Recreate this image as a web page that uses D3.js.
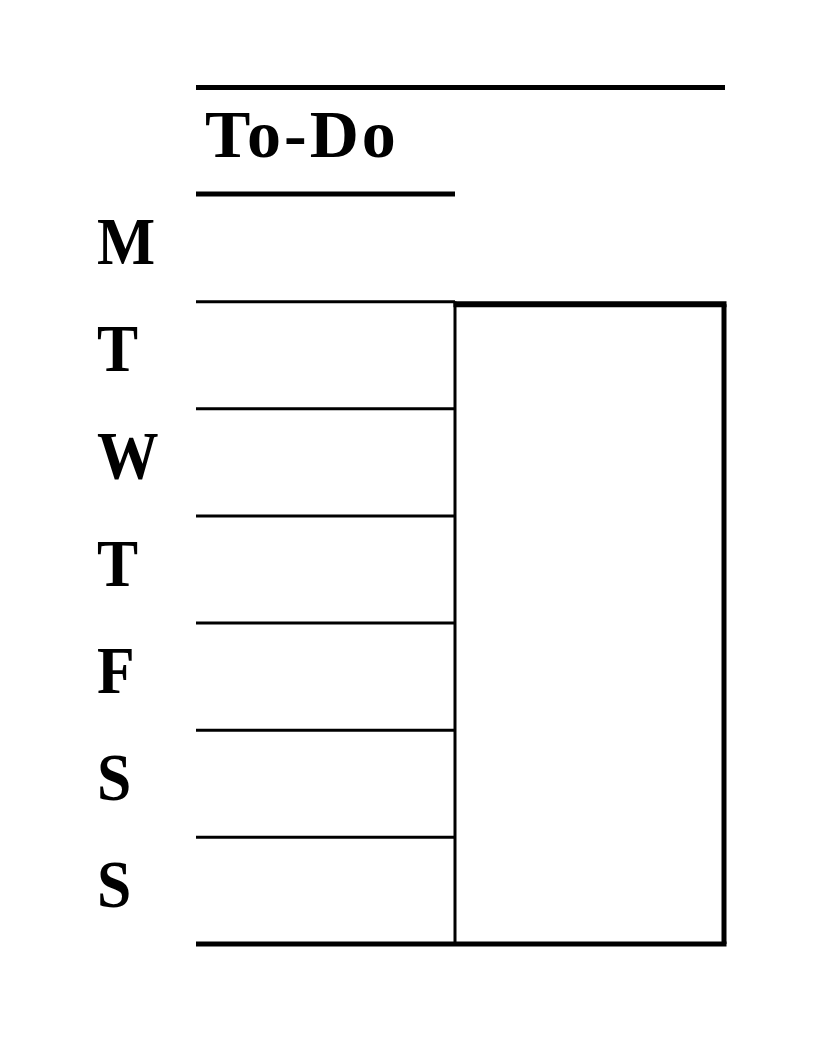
<!DOCTYPE html>
<html>
<head>
<meta charset="utf-8">
<script src="https://cdn.jsdelivr.net/npm/d3@7"></script>
<style>
  html, body { margin: 0; padding: 0; background: #fff; }
  svg { display: block; }
  text { font-family: "Liberation Serif", "DejaVu Serif", serif; font-weight: bold; fill: #000; }
</style>
</head>
<body>
<div id="chart"></div>
<script>

	/*****************************************
					Data
	*****************************************/

	var title = "To-Do";
	var days  = ["M", "T", "W", "T", "F", "S", "S"];
	var rows  = d3.range(days.length + 1);        // row boundaries 0..7

	/*****************************************
					Layout
	*****************************************/

	var W = 816, H = 1056;

	var svg = d3.select("#chart").append("svg")
		.attr("width", W)
		.attr("height", H);

	// rows of the week, top boundary under the title, bottom is the thick rule
	var y = d3.scaleLinear()
		.domain([0, days.length])
		.range([194, 944]);

	// column edges: left of list, divider, right of box
	var x = d3.scaleOrdinal()
		.domain(["left", "mid", "right"])
		.range([196, 455, 724]);

	/*****************************************
				Header
	*****************************************/

	svg.append("line")
		.attr("x1", x("left")).attr("x2", x("right") + 1)
		.attr("y1", 87.5).attr("y2", 87.5)
		.attr("stroke", "#000").attr("stroke-width", 5);

	svg.append("text")
		.attr("x", 205)
		.attr("y", 157)
		.style("font-size", "68px")
		.style("letter-spacing", "3px")
		.text(title);

	svg.append("line")
		.attr("x1", x("left")).attr("x2", x("mid"))
		.attr("y1", y(0)).attr("y2", y(0))
		.attr("stroke", "#000").attr("stroke-width", 5);

	/*****************************************
				Day rows
	*****************************************/

	svg.selectAll("line.row")
		.data(rows.slice(1, -1))
		.enter().append("line")
			.attr("class", "row")
			.attr("x1", x("left")).attr("x2", x("mid"))
			.attr("y1", function(d){ return y(d) + 0.5; })
			.attr("y2", function(d){ return y(d) + 0.5; })
			.attr("stroke", "#000").attr("stroke-width", 3);

	svg.selectAll("text.day")
		.data(days)
		.enter().append("text")
			.attr("class", "day")
			.attr("transform", function(d, i){
				return "translate(97," + (y(i + 1) - 37) + ") scale(0.92,1)";
			})
			.style("font-size", "67px")
			.text(function(d){ return d; });

	/*****************************************
				Notes box
	*****************************************/

	var boxTop = y(1) + 3;

	svg.append("line")
		.attr("x1", x("mid")).attr("x2", x("mid"))
		.attr("y1", y(1)).attr("y2", y(days.length))
		.attr("stroke", "#000").attr("stroke-width", 3);

	svg.append("line")
		.attr("x1", x("mid") - 1.5).attr("x2", x("right") + 2.5)
		.attr("y1", boxTop).attr("y2", boxTop)
		.attr("stroke", "#000").attr("stroke-width", 6);

	svg.append("line")
		.attr("x1", x("right")).attr("x2", x("right"))
		.attr("y1", boxTop).attr("y2", y(days.length))
		.attr("stroke", "#000").attr("stroke-width", 5);

	svg.append("line")
		.attr("x1", x("left")).attr("x2", x("right") + 2.5)
		.attr("y1", y(days.length)).attr("y2", y(days.length))
		.attr("stroke", "#000").attr("stroke-width", 5);

</script>
</body>
</html>
